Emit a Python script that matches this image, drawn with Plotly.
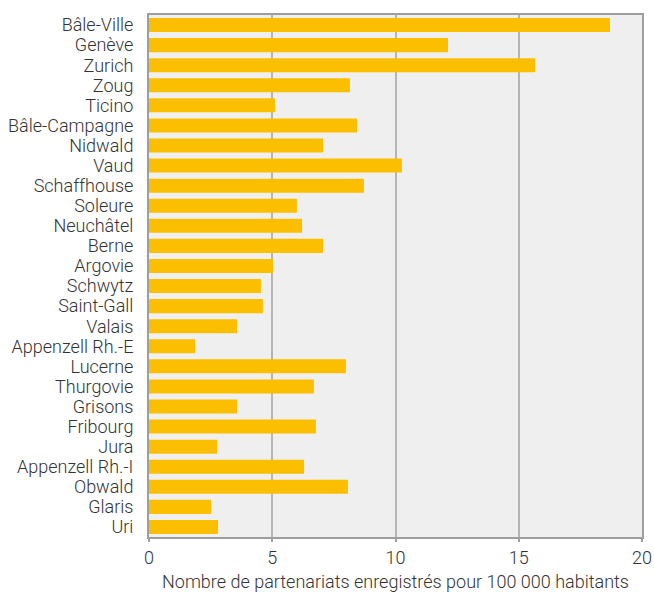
import plotly.graph_objects as go

cantons = ["Bâle-Ville", "Genève", "Zurich", "Zoug", "Ticino", "Bâle-Campagne", "Nidwald",
           "Vaud", "Schaffhouse", "Soleure", "Neuchâtel", "Berne", "Argovie", "Schwytz",
           "Saint-Gall", "Valais", "Appenzell Rh.-E", "Lucerne", "Thurgovie", "Grisons",
           "Fribourg", "Jura", "Appenzell Rh.-I", "Obwald", "Glaris", "Uri"]
values = [18.70, 12.13, 15.66, 8.15, 5.11, 8.44, 7.06,
          10.26, 8.72, 6.00, 6.21, 7.06, 5.03, 4.54,
          4.62, 3.57, 1.87, 7.99, 6.69, 3.57,
          6.77, 2.76, 6.29, 8.07, 2.52, 2.80]
x_ticks = [0, 5, 10, 15, 20]
x_title = "Nombre de partenariats enregistrés pour 100 000 habitants"

font = dict(family="Roboto", size=18, color="#333333", weight=300)

fig = go.Figure(go.Bar(
    x=values, y=cantons, orientation="h",
    marker=dict(color="#FCBF00", line=dict(width=0)),
))

fig.update_layout(
    width=654, height=592,
    margin=dict(l=149, r=12, t=15, b=55, autoexpand=False),
    paper_bgcolor="white",
    plot_bgcolor="#EFEFEF",
    bargap=0.3,
    showlegend=False,
    font=font,
)
fig.update_xaxes(
    range=[0, 20], tickmode="array", tickvals=x_ticks, showgrid=True, gridcolor="#B5B5B5",
    gridwidth=1.5, zeroline=False, showline=True, linecolor="#9E9E9E", linewidth=2, mirror=True,
    ticks="outside", ticklen=3, tickcolor="#9E9E9E", tickwidth=1.5,
    title=dict(text=x_title, font=font, standoff=11),
    tickfont=font,
)
fig.update_yaxes(
    autorange="reversed", tickmode="array", tickvals=cantons, ticktext=cantons,
    showgrid=False, showline=True, linecolor="#9E9E9E", linewidth=2,
    mirror=True, ticks="", tickfont=font, ticklabelstandoff=10,
)

fig.write_html("out.html")
